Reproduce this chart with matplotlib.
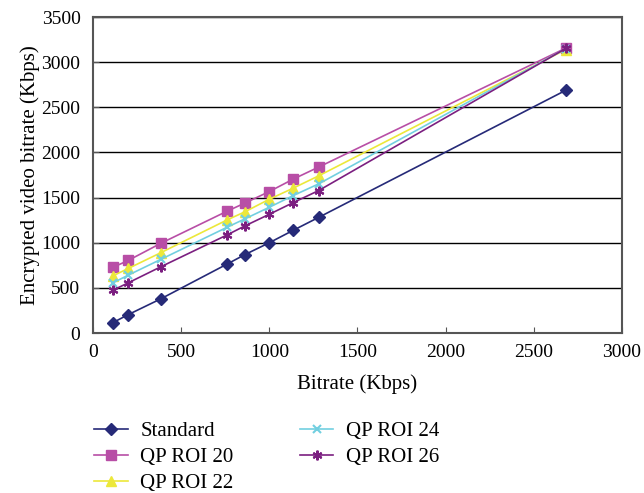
import matplotlib
matplotlib.use("Agg")
import matplotlib.pyplot as plt

plt.rcParams['font.family'] = ['Liberation Serif', 'DejaVu Serif']

# bitrate (Kbps) for each test point
bitrate = [113, 200, 384, 760, 860, 1000, 1135, 1280, 2682]

standard = [115, 204, 378, 763, 867, 1000, 1137, 1281, 2689]
qp_roi_20 = [727, 804, 993, 1349, 1438, 1567, 1704, 1838, 3156]
qp_roi_22 = [633, 715, 889, 1252, 1341, 1482, 1604, 1741, 3140]
qp_roi_24 = [556, 641, 815, 1171, 1263, 1393, 1522, 1652, 3150]
qp_roi_26 = [474, 556, 733, 1086, 1185, 1315, 1444, 1578, 3152]

fig = plt.figure(figsize=(6.44, 4.93), dpi=100)
ax = fig.add_axes([0.1444, 0.3245, 0.8214, 0.641])

ax.plot(bitrate, standard, color='#262a78', marker='D', markersize=6, lw=1.2, label='Standard')
ax.plot(bitrate, qp_roi_20, color='#b84ea6', marker='s', markersize=7, lw=1.2, label='QP ROI 20')
ax.plot(bitrate, qp_roi_22, color='#ece83a', marker='^', markersize=7, lw=1.2, label='QP ROI 22')
ax.plot(bitrate, qp_roi_24, color='#72cfe0', marker='x', markersize=6, mew=1.5, lw=1.2, label='QP ROI 24')
ax.plot(bitrate, qp_roi_26, color='#7b1f80', marker=(6, 2, 0), markersize=7, mew=1.5, lw=1.2, label='QP ROI 26')

ax.set_xlim(0, 3000)
ax.set_ylim(0, 3500)
ax.set_xticks(range(0, 3001, 500))
ax.set_yticks(range(0, 3501, 500))
ax.yaxis.grid(True, color='black', lw=1.0)
ax.set_axisbelow(True)
ax.tick_params(labelsize=14, direction='in', length=4, color='#555555')
ax.tick_params(axis='x', pad=8)
ax.tick_params(axis='y', pad=9)
for s in ax.spines.values():
    s.set_color('#555555')
    s.set_linewidth(1.5)

ax.set_xlabel('Bitrate (Kbps)', fontsize=15, labelpad=9.5)
ax.set_ylabel('Encrypted video bitrate (Kbps)', fontsize=15, labelpad=1)

ax.legend(loc='upper left', bbox_to_anchor=(84 / 644, 0.166), bbox_transform=fig.transFigure,
          ncol=2, frameon=False, borderpad=0, fontsize=15, handlelength=1.6,
          handletextpad=0.6, columnspacing=3.2, labelspacing=0.3)

fig.savefig('out.png', dpi=100)
